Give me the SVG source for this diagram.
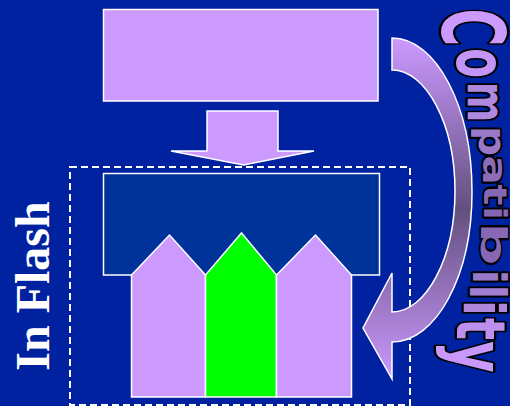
<svg xmlns="http://www.w3.org/2000/svg" width="510" height="406" viewBox="0 0 510 406">
<style>
.box{fill:#CC99FF;stroke:#FFFFFF;stroke-width:1.5}
.dark{fill:#003399;stroke:#FFFFFF;stroke-width:1.5}
.green{fill:#00FF00;stroke:#FFFFFF;stroke-width:1.5}
.frame{fill:none;stroke:#FFFFFF;stroke-width:2;stroke-dasharray:7 4}
.arrow{stroke:#FFFFFF;stroke-width:1.5;stroke-linejoin:miter}
.flash{font-family:"Liberation Serif",serif;font-weight:bold;font-size:48px;fill:#FFFFFF}
.wa{font-family:"DejaVu Sans",sans-serif;font-weight:bold;font-size:40px;stroke:#000000;stroke-width:4;stroke-linejoin:round;paint-order:stroke;vector-effect:non-scaling-stroke;text-anchor:middle}
</style>
<defs>
<linearGradient id="curveGrad" gradientUnits="userSpaceOnUse" x1="0" y1="38" x2="0" y2="380">
<stop offset="0" stop-color="#CC99FF"/>
<stop offset="0.5" stop-color="#63507E"/>
<stop offset="1" stop-color="#CC99FF"/>
</linearGradient>
</defs>
<rect width="510" height="406" fill="#0022A0"/>

<g id="frame">
<rect class="frame" x="70" y="167" width="340" height="238"/>
</g>

<g id="source-box">
<rect class="box" x="103.5" y="9.5" width="274.5" height="91.5"/>
</g>

<g id="flash-box">
<rect class="dark" x="103.5" y="173.5" width="276" height="101.5"/>
</g>

<g id="house-left">
<path class="box" d="M131.5,397 L205.5,397 L205.5,275 L169.5,235 L131.5,275 Z"/>
</g>
<g id="house-middle">
<path class="green" d="M205.5,397 L276.5,397 L276.5,275 L241.5,233 L205.5,275 Z"/>
</g>
<g id="house-right">
<path class="box" d="M276.5,397 L351.5,397 L351.5,275 L315.5,235 L276.5,275 Z"/>
</g>

<g id="connectors">
<polygon class="arrow" fill="#CC99FF" points="207,111 278,111 278,151 314,151 243.5,165 171,151 207,151"/>
<path class="arrow" fill="url(#curveGrad)" d="M392,38 C436,38 472,106 472,192 C472,276 436,342 392,342 L392,379 L363,328 L392,273 L392,312 C426,312 455,258 455,191 C455,124 426,70 392,70 Z"/>
</g>

<g id="label-in-flash">
<text class="flash" text-anchor="middle" transform="translate(49,286) rotate(-90)">In Flash</text>
</g>

<g id="label-compatibility">
<text class="wa" fill="#CC99FF" transform="translate(442,27.5) rotate(90) scale(1.3,2.16)">C</text>
<text class="wa" fill="#C495F8" transform="translate(457,63) rotate(90) scale(1.1,1.72)">o</text>
<text class="wa" fill="#B088E0" transform="translate(468,102) rotate(90) scale(0.97,1.32)">m</text>
<text class="wa" fill="#9A78C8" transform="translate(479,141) rotate(90) scale(1.05,0.98)">p</text>
<text class="wa" fill="#8C6CB8" transform="translate(483,170) rotate(90) scale(1.1,0.84)">a</text>
<text class="wa" fill="#8668B2" transform="translate(484,195) rotate(90) scale(1.1,0.8)">t</text>
<text class="wa" fill="#8466B0" transform="translate(484,213) rotate(90) scale(1.0,0.8)">i</text>
<text class="wa" fill="#8868B4" transform="translate(481,244) rotate(90) scale(1.5,0.88)">b</text>
<text class="wa" fill="#9A78C8" transform="translate(473,277) rotate(90) scale(1.05,1.15)">i</text>
<text class="wa" fill="#A27ED0" transform="translate(470,292) rotate(90) scale(1.05,1.25)">l</text>
<text class="wa" fill="#AE86DC" transform="translate(464,308) rotate(90) scale(1.15,1.44)">i</text>
<text class="wa" fill="#BC90EC" transform="translate(457,329) rotate(90) scale(1.15,1.68)">t</text>
<text class="wa" fill="#C898FA" transform="translate(452,357) rotate(90) scale(1.2,1.86)">y</text>
</g>
</svg>
